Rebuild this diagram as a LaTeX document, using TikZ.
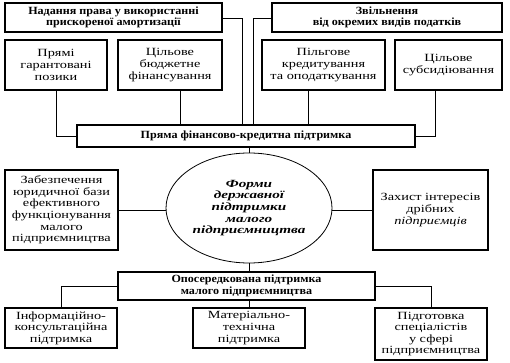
\documentclass[tikz,border=0pt]{standalone}
\usepackage{fontspec}
\setmainfont{Liberation Serif}[UprightFeatures={FakeStretch=1.3},BoldFeatures={FakeStretch=1.1},ItalicFeatures={FakeStretch=1.3},BoldItalicFeatures={FakeStretch=1.38}]
\usetikzlibrary{shapes.geometric}
\begin{document}
\begin{tikzpicture}[x=1pt,y=-1pt,
  box/.style={draw,line width=1.1pt,align=center,inner sep=1pt,font=\fontsize{11}{11.6}\selectfont},
  bbox/.style={box,font=\fontsize{11}{11.6}\selectfont\bfseries},
  conn/.style={line width=0.8pt}]
\useasboundingbox (0,0) rectangle (510,363);
\node[bbox,minimum width=217pt,minimum height=29pt] (A) at (113.5,17.5) {Надання права у використанні\\прискореної амортизації};
\node[bbox,minimum width=230pt,minimum height=29pt] (B) at (387,17.5) {Звільнення\\від окремих видів податків};
\node[box,minimum width=102pt,minimum height=50pt] (C) at (56,65) {Прямі\\гарантовані\\позики};
\node[box,minimum width=104pt,minimum height=50pt] (D) at (170,65) {Цільове\\бюджетне\\фінансування};
\node[box,minimum width=123pt,minimum height=50pt] (E) at (323.5,65) {Пільгове\\кредитування\\та оподаткування};
\node[box,minimum width=107pt,minimum height=50pt] (F) at (448.5,65) {Цільове\\субсидіювання};
\node[bbox,minimum width=338pt,minimum height=22pt] (M) at (246,136) {Пряма фінансово-кредитна підтримка};
\node[draw,line width=0.8pt,ellipse,minimum width=166pt,minimum height=110pt,inner sep=0pt,align=center,font=\fontsize{11}{11.7}\selectfont\bfseries\itshape] (E0) at (249,208) {Форми\\державної\\підтримки\\малого\\підприємництва};
\node[box,minimum width=113pt,minimum height=80pt] (L) at (61.5,210) {Забезпечення\\юридичної бази\\ефективного\\функціонування\\малого\\підприємництва};
\node[box,minimum width=115pt,minimum height=80pt] (R) at (430.5,210) {Захист інтересів\\дрібних\\\textit{підприємців}};
\node[bbox,minimum width=257pt,minimum height=28pt] (N) at (246.5,286) {Опосередкована підтримка\\малого підприємництва};
\node[box,minimum width=112pt,minimum height=40pt] (P1) at (61,328) {Інформаційно-\\консультаційна\\підтримка};
\node[box,minimum width=112pt,minimum height=40pt] (P2) at (249,328) {Матеріально-\\технічна\\підтримка};
\node[box,minimum width=112pt,minimum height=52pt] (P3) at (431,334) {Підготовка\\спеціалістів\\у сфері\\підприємництва};
\coordinate (a1) at (242,18);
\coordinate (b1) at (253,18);
\coordinate (d1) at (180,0);
\coordinate (e1) at (308,0);
\coordinate (f1) at (435,0);
\draw[conn] (A.east |- a1) -- (a1) -- (a1 |- M.north);
\draw[conn] (B.west |- b1) -- (b1) -- (b1 |- M.north);
\draw[conn] (C.south) |- (M.west);
\draw[conn] (D.south -| d1) -- (d1 |- M.north);
\draw[conn] (E.south -| e1) -- (e1 |- M.north);
\draw[conn] (F.south -| f1) |- (M.east);
\draw[conn] (M.south -| E0.north) -- (E0.north);
\draw[conn] (L.east) -- (E0.west |- L.east);
\draw[conn] (R.west) -- (E0.east |- R.west);
\draw[conn] (E0.south) -- (E0.south |- N.north);
\draw[conn] (N.west) -| (P1.north);
\draw[conn] (N.south -| P2.north) -- (P2.north);
\draw[conn] (N.east) -| (P3.north);
\end{tikzpicture}
\end{document}
